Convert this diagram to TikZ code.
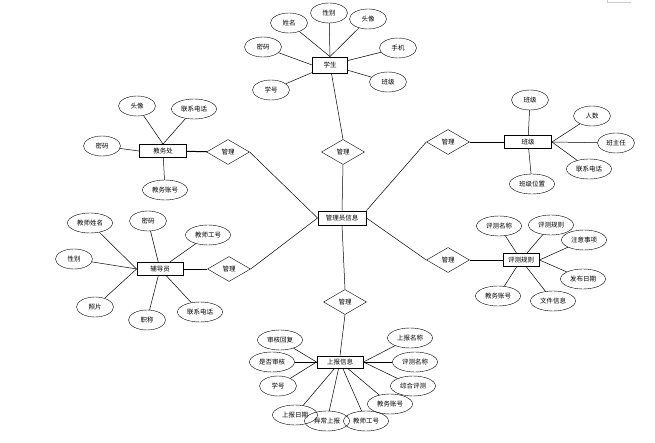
\documentclass[tikz,border=0pt]{standalone}
\usepackage{fontspec}
\newfontfamily\cjk{Noto Sans CJK SC}
\usepackage{tikz}
\usetikzlibrary{arrows, positioning, shapes}
\tikzstyle{entity} = [draw, rectangle, line width=0.9pt, minimum height=13pt,
	minimum width=46pt, inner sep=1pt]
\tikzstyle{attr} = [draw, ellipse, minimum height=20pt, minimum width=37pt, inner sep=0.5pt]
\tikzstyle{attrw} = [attr, minimum width=45pt]
\tikzstyle{relation} = [draw, diamond, aspect=1.7, minimum height=25pt, minimum width=43pt,
	inner sep=0pt]
\tikzstyle{line} = [draw, line width=0.5pt]

\begin{document}
\begin{tikzpicture}[x=1pt, y=-1pt, font=\cjk\fontsize{6.5}{7}\selectfont]
		\useasboundingbox (0,0) rectangle (655,443);
		\draw [gray!40] (607,0) -- (607,2) -- (631,2);

		% entities
		\node [entity, minimum width=48pt, minimum height=14pt] (admin) at (342,218) {管理员信息};
		\node [entity, minimum width=35pt, minimum height=16pt] (stu) at (330,65) {学生};
		\node [entity, minimum width=47pt] (office) at (163,151) {教务处};
		\node [entity, minimum width=47pt] (cls) at (528,142) {班级};
		\node [entity] (coun) at (160,269) {辅导员};
		\node [entity, minimum width=36pt] (rule) at (521,260) {评测规则};
		\node [entity, minimum height=12pt] (rep) at (340,362) {上报信息};

		% relations
		\node [relation] (rstu) at (343,152) {管理};
		\node [relation] (roffice) at (228,152) {管理};
		\node [relation] (rcls) at (448,142) {管理};
		\node [relation] (rcoun) at (229,269) {管理};
		\node [relation] (rrule) at (448,260) {管理};
		\node [relation] (rrep) at (345,302) {管理};

		\path [line] (stu) -- (rstu.north);
		\path [line] (rstu.south) -- (admin.north);
		\path [line, line width=1pt] (office) -- (roffice);
		\path [line] (roffice.east) -- (admin.west);
		\path [line] (rcls) -- (cls);
		\path [line] (rcls.west) -- (admin.north east);
		\path [line] (coun) -- (rcoun);
		\path [line] (rcoun.east) -- (admin.west);
		\path [line] (rrule) -- (rule);
		\path [line] (rrule.west) -- (admin.east);
		\path [line] (admin.south) -- (rrep.north);
		\path [line] (rrep.south) -- (rep.north);

		% student
		\node [attr] (sname) at (289,23) {姓名};
		\node [attr] (ssex) at (329,13) {性别};
		\node [attr] (sphoto) at (368,19) {头像};
		\node [attr] (spwd) at (263,47) {密码};
		\node [attr] (sphone) at (398,48) {手机};
		\node [attr] (sno) at (271,90) {学号};
		\node [attr] (sclass) at (388,82) {班级};
		\path [line] (sname) -- (stu.north);
		\path [line] (ssex) -- (stu.north);
		\path [line] (sphoto) -- (stu.north);
		\path [line] (spwd) -- (stu.west);
		\path [line] (sphone) -- (stu);
		\path [line] (sno) -- (stu);
		\path [line] (sclass) -- (stu);

		% office
		\node [attr] (ophoto) at (137,106) {头像};
		\node [attrw] (otel) at (194,109) {联系电话};
		\node [attr] (opwd) at (102,146) {密码};
		\node [attrw] (oacc) at (165,190) {教务账号};
		\path [line] (ophoto) -- (office.north);
		\path [line] (otel) -- (office.north);
		\path [line] (opwd) -- (office.west);
		\path [line] (oacc) -- (office);

		% class
		\node [attr] (cname) at (530,100) {班级};
		\node [attr] (cnum) at (592,116) {人数};
		\node [attr] (chead) at (616,143) {班主任};
		\node [attrw] (ctel) at (589,169) {联系电话};
		\node [attrw] (cpos) at (532,184) {班级位置};
		\path [line] (cname) -- (cls);
		\path [line] (cnum) -- (cls.east);
		\path [line] (chead) -- (cls.east);
		\path [line] (ctel) -- (cls.east);
		\path [line] (cpos) -- (cls);

		% counsellor
		\node [attrw] (tname) at (90,223) {教师姓名};
		\node [attr] (tpwd) at (148,221) {密码};
		\node [attrw] (tno) at (208,235) {教师工号};
		\node [attr] (tsex) at (74,259) {性别};
		\node [attr] (tpic) at (95,307) {照片};
		\node [attr] (ttitle) at (147,320) {职称};
		\node [attrw] (ttel) at (200,312) {联系电话};
		\path [line] (tname) -- (coun.west);
		\path [line] (tpwd) -- (coun);
		\path [line] (tno) -- (coun);
		\path [line] (tsex) -- (coun.west);
		\path [line] (tpic) -- (coun.west);
		\path [line] (ttitle) -- (coun);
		\path [line] (ttel) -- (coun);

		% rule
		\node [attrw] (rname) at (499,226) {评测名称};
		\node [attrw] (rrul) at (551,225) {评测规则};
		\node [attrw] (rnote) at (584,240) {注意事项};
		\node [attrw] (rdate) at (583,279) {发布日期};
		\node [attrw] (rfile) at (553,301) {文件信息};
		\node [attrw] (racc) at (498,296) {教务账号};
		\path [line] (rname) -- (rule);
		\path [line] (rrul) -- (rule);
		\path [line] (rnote) -- (rule.east);
		\path [line] (rdate) -- (rule.east);
		\path [line] (rfile) -- (rule);
		\path [line] (racc) -- (rule);

		% report
		\node [attrw] (preply) at (280,340) {审核回复};
		\node [attrw] (pcheck) at (272,362) {是否审核};
		\node [attr] (pno) at (278,386) {学号};
		\node [attrw] (pdate) at (295,415) {上报日期};
		\node [attrw] (pabn) at (327,421) {异常上报};
		\node [attrw] (ptno) at (366,421) {教师工号};
		\node [attrw] (pacc) at (390,404) {教务账号};
		\node [attrw] (psum) at (413,386) {综合评测};
		\node [attrw] (pname) at (415,362) {评测名称};
		\node [attrw] (ptitle) at (410,338) {上报名称};
		\path [line] (preply) -- (rep.west);
		\path [line] (pcheck) -- (rep);
		\path [line] (pno) -- (rep.west);
		\path [line] (pdate) -- (rep);
		\path [line] (pabn) -- (rep);
		\path [line] (ptno) -- (rep);
		\path [line] (pacc) -- (rep);
		\path [line] (psum) -- (rep.east);
		\path [line] (pname) -- (rep);
		\path [line] (ptitle) -- (rep.east);
	\end{tikzpicture}
\end{document}
